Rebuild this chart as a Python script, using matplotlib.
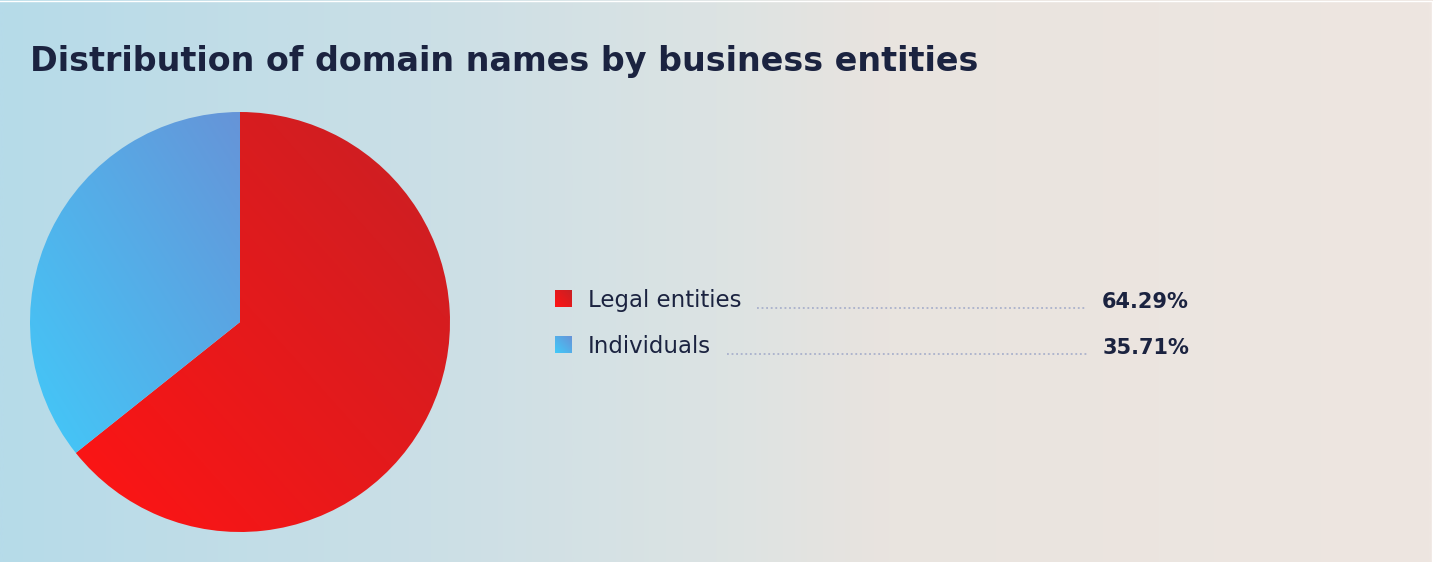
import numpy as np
import matplotlib
matplotlib.use("Agg")
import matplotlib.pyplot as plt
from matplotlib.colors import LinearSegmentedColormap
from matplotlib.patches import Rectangle

# ---- data ----
title = "Distribution of domain names by business entities"
labels = ["Legal entities", "Individuals"]
values = [64.29, 35.71]
value_labels = ["64.29%", "35.71%"]

# ---- styles ----
W, H = 1433, 562
FONT = ["DejaVu Sans"]
TEXT_COLOR = "#1b2340"
grad_colors = [("#ff1414", "#c82024"), ("#42c9f9", "#6694d8")]

fig = plt.figure(figsize=(W / 100, H / 100), dpi=100)
bg = fig.add_axes([0, 0, 1, 1])
bg.set_xlim(0, W)
bg.set_ylim(H, 0)
bg.axis("off")

# background gradient (horizontal)
bg_cmap = LinearSegmentedColormap.from_list(
    "bg", [(0.0, "#b6dbe9"), (0.3, "#cbdfe6"), (0.5, "#dce3e3"),
           (0.62, "#e9e4df"), (1.0, "#eee6e1")])
grad = np.linspace(0, 1, 512).reshape(1, -1)
bg.imshow(grad, cmap=bg_cmap, extent=[0, W, H, 0], aspect="auto", zorder=0)
# thin white edge at top and right
bg.plot([0, W - 0.5, W - 0.5], [0.5, 0.5, H], color="white", linewidth=1.0, zorder=1)

# title
bg.text(30, 71, title, fontsize=24, fontweight="bold", color=TEXT_COLOR,
        family=FONT, ha="left", va="baseline", zorder=3)

# ---- pie ----
pax = fig.add_axes([30 / W, 30 / H, 420 / W, 420 / H])
wedges, _ = pax.pie(values, startangle=90, counterclock=False, radius=1,
                    wedgeprops=dict(linewidth=0))
pax.set_xlim(-1, 1)
pax.set_ylim(-1, 1)
pax.set_aspect("equal")
pax.axis("off")

for wdg, (c0, c1) in zip(wedges, grad_colors):
    cmap = LinearSegmentedColormap.from_list("g", [c0, c1])
    bb = wdg.get_path().get_extents(wdg.get_patch_transform())
    x0, y0, x1, y1 = bb.x0, bb.y0, bb.x1, bb.y1
    n = 300
    xx, yy = np.meshgrid(np.linspace(0, 1, n), np.linspace(0, 1, n))
    t = (xx + yy) / 2.0
    wdg.set_facecolor("none")
    im = pax.imshow(t, cmap=cmap, extent=[x0, x1, y0, y1], origin="lower",
                    aspect="auto", zorder=1, interpolation="bilinear")
    im.set_clip_path(wdg)

# ---- legend ----
fig.canvas.draw()
renderer = fig.canvas.get_renderer()
row_y = [307, 353]
sq_x, sq = 555, 17
text_x = 588
val_right = 1189
for i, (lab, vl) in enumerate(zip(labels, value_labels)):
    y = row_y[i]
    c0, c1 = grad_colors[i]
    cmap = LinearSegmentedColormap.from_list("g", [c0, c1])
    xx, yy = np.meshgrid(np.linspace(0, 1, 20), np.linspace(0, 1, 20))
    rect = Rectangle((sq_x, y - sq), sq, sq, facecolor="none", edgecolor="none",
                     transform=bg.transData)
    bg.add_patch(rect)
    im = bg.imshow((xx + (1 - yy)) / 2, cmap=cmap, extent=[sq_x, sq_x + sq, y, y - sq],
                   aspect="auto", zorder=3)
    im.set_clip_path(rect)

    t1 = bg.text(text_x, y, lab, fontsize=16.5, color=TEXT_COLOR, family=FONT,
                 ha="left", va="baseline", zorder=3)
    t2 = bg.text(val_right, y + 1, vl, fontsize=15, fontweight="bold",
                 color=TEXT_COLOR, family=FONT, ha="right", va="baseline", zorder=3)
    e1 = t1.get_window_extent(renderer)
    e2 = t2.get_window_extent(renderer)
    xs = e1.x1 + 16
    xe = e2.x0 - 15
    bg.plot([xs, xe], [y + 0.5, y + 0.5], color="#9fa8c8", linewidth=1.1,
            linestyle=(0, (1.2, 1.8)), zorder=2, solid_capstyle="butt")

fig.savefig("out.png", dpi=100)
